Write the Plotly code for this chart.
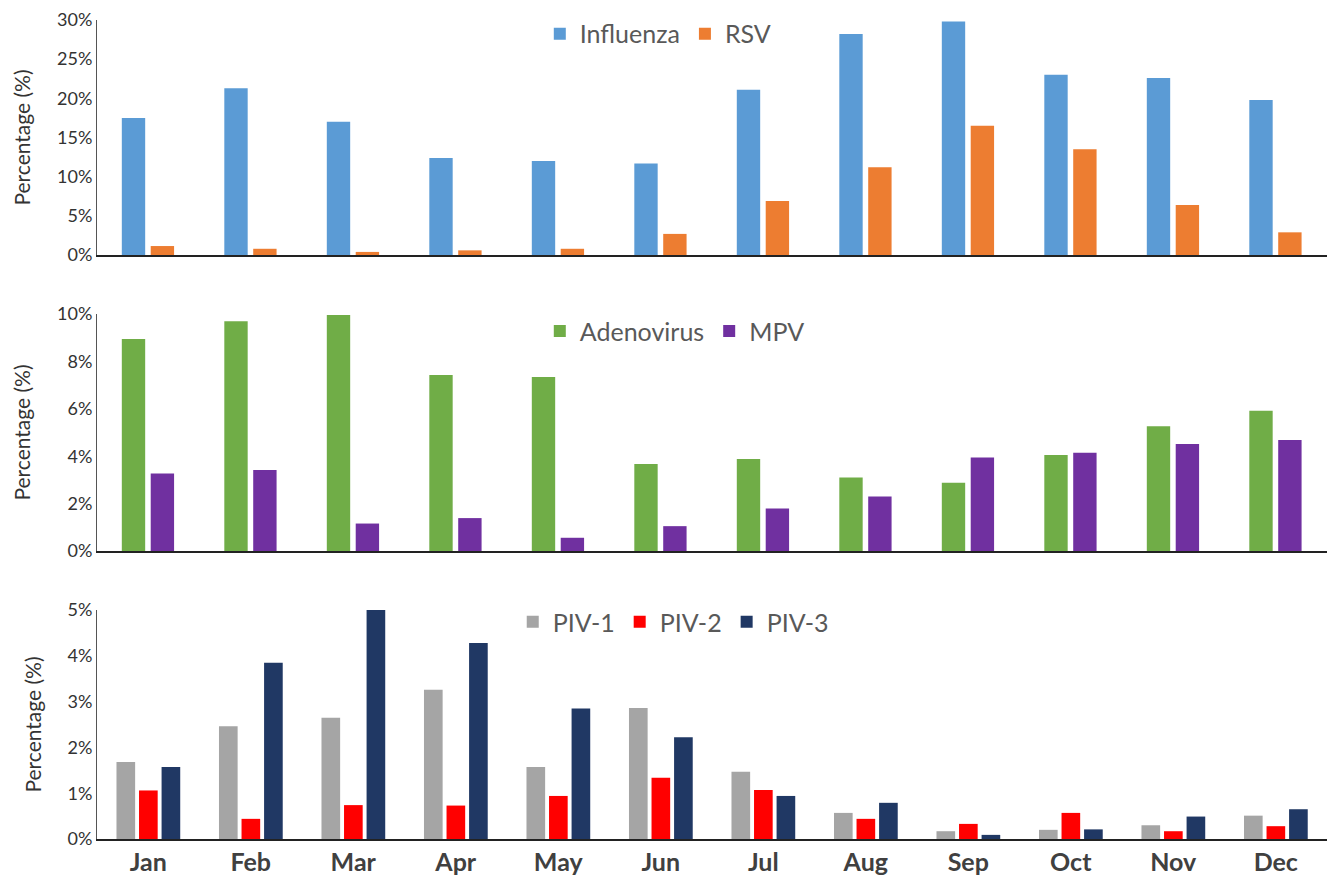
import plotly.graph_objects as go

months = ["Jan", "Feb", "Mar", "Apr", "May", "Jun", "Jul", "Aug", "Sep", "Oct", "Nov", "Dec"]

influenza = [17.5, 21.3, 17.0, 12.4, 12.0, 11.7, 21.1, 28.2, 29.8, 23.0, 22.6, 19.8]
rsv = [1.15, 0.8, 0.4, 0.6, 0.8, 2.7, 6.9, 11.2, 16.5, 13.5, 6.4, 2.9]

adenovirus = [8.95, 9.7, 9.96, 7.43, 7.34, 3.67, 3.88, 3.1, 2.88, 4.05, 5.27, 5.92]
mpv = [3.27, 3.42, 1.16, 1.39, 0.56, 1.05, 1.8, 2.3, 3.95, 4.15, 4.52, 4.68]

piv1 = [1.68, 2.46, 2.65, 3.26, 1.57, 2.86, 1.47, 0.57, 0.17, 0.2, 0.3, 0.51]
piv2 = [1.06, 0.44, 0.74, 0.73, 0.94, 1.34, 1.07, 0.44, 0.33, 0.57, 0.17, 0.28]
piv3 = [1.57, 3.85, 5.0, 4.28, 2.85, 2.22, 0.94, 0.79, 0.09, 0.21, 0.49, 0.65]

FONT = "Lato"
fig = go.Figure()

def add(name, vals, color, xa, ya, legend, width, offset):
    fig.add_trace(go.Bar(
        x=months, y=vals, name=name, marker=dict(color=color, line=dict(width=0)),
        xaxis=xa, yaxis=ya, legend=legend, width=width, offset=offset,
        hovertemplate="%{x}: %{y}%<extra>" + name + "</extra>",
    ))

w2 = 0.228
add("Influenza", influenza, "#5B9BD5", "x", "y", "legend", w2, -0.258)
add("RSV", rsv, "#ED7D31", "x", "y", "legend", w2, 0.024)
add("Adenovirus", adenovirus, "#70AD47", "x2", "y2", "legend2", w2, -0.258)
add("MPV", mpv, "#7030A0", "x2", "y2", "legend2", w2, 0.024)
w3 = 0.182
add("PIV-1", piv1, "#A5A5A5", "x3", "y3", "legend3", w3, -0.31)
add("PIV-2", piv2, "#FF0000", "x3", "y3", "legend3", w3, -0.09)
add("PIV-3", piv3, "#203864", "x3", "y3", "legend3", w3, 0.13)

tickfont = dict(family=FONT, size=18, color="#333333")
titlefont = dict(family=FONT, size=21, color="#333333")

def xaxis(anchor, show_labels):
    return dict(
        anchor=anchor, domain=[0, 1], showgrid=False, zeroline=False,
        showline=True, linecolor="#222222", linewidth=2, ticks="",
        showticklabels=show_labels, categoryorder="array", categoryarray=months,
        range=[-0.5, 11.5],
        tickfont=dict(family=FONT, size=25, color="#404040", weight="bold"),
    )

def yaxis(anchor, domain, rng, dtick):
    return dict(
        anchor=anchor, domain=domain, range=rng, dtick=dtick, tick0=0,
        ticksuffix="%", showgrid=False, zeroline=False, showline=True,
        linecolor="#555555", linewidth=1, ticks="", tickfont=tickfont,
        automargin=False,
        title=dict(text="Percentage (%)", font=titlefont, standoff=20),
    )

legend_common = dict(
    orientation="h", xanchor="left", yanchor="top",
    font=dict(family=FONT, size=25, color="#595959"),
    bgcolor="rgba(255,255,255,0)", itemwidth=30, traceorder="normal",
)

# Page body has an 8px default margin; size the figure to the 1342x875 window.
fig.update_layout(
    width=1326, height=867,
    margin=dict(l=89, r=7, t=12, b=36, autoexpand=False),
    paper_bgcolor="white", plot_bgcolor="white",
    barmode="overlay",
    xaxis=xaxis("y", False),
    xaxis2=xaxis("y2", False),
    xaxis3=xaxis("y3", True),
    yaxis=yaxis("x", [0.713, 1.0], [0, 30], 5),
    yaxis2=yaxis("x2", [0.3516, 0.641], [0, 10], 2),
    yaxis3=yaxis("x3", [0.0, 0.2796], [0, 5], 1),
    legend=dict(x=0.36, y=1.011, **legend_common),
    legend2=dict(x=0.36, y=0.648, **legend_common),
    legend3=dict(x=0.338, y=0.293, **legend_common),
    showlegend=True,
)

fig.write_html("out.html")
